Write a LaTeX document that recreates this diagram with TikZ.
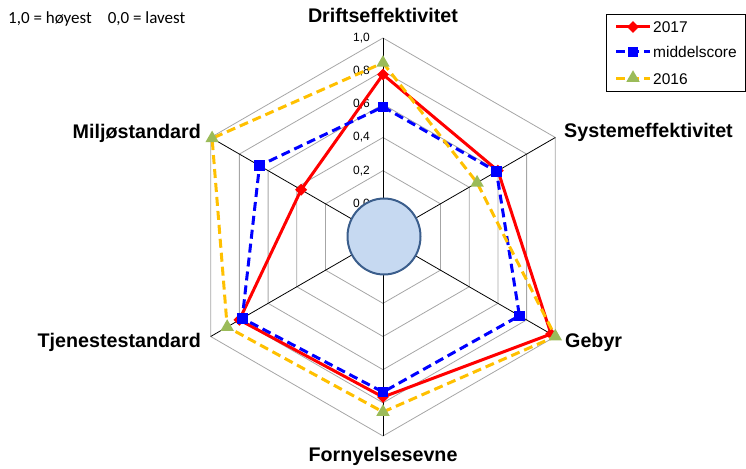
\documentclass[tikz,border=0pt]{standalone}
\usepackage{fontspec}
\setmainfont{Liberation Sans}
\newfontfamily\notefont{Carlito}
\usetikzlibrary{shapes.geometric}
\definecolor{ysc}{HTML}{FFC000}
\definecolor{grn}{HTML}{9BBB59}
\definecolor{hubfill}{HTML}{C6D9F1}
\definecolor{hubdraw}{HTML}{3B5E8C}
\definecolor{gridgray}{HTML}{A6A6A6}
\begin{document}
\begin{tikzpicture}[x=1pt,y=1pt,
  gridline/.style={draw=gridgray, line width=0.8pt},
  axisline/.style={draw=black, line width=0.8pt},
  catlabel/.style={font=\fontsize{19.7}{23}\selectfont\bfseries, inner sep=0pt},
  ticklabel/.style={font=\fontsize{12}{14}\selectfont, anchor=east, inner sep=0pt},
  legtext/.style={font=\fontsize{15.5}{18}\selectfont, anchor=west, inner sep=0pt},
  s17/.style={draw=red, line width=3pt, line join=round},
  smid/.style={draw=blue, line width=3pt, dash pattern=on 9pt off 5pt},
  s16/.style={draw=ysc, line width=3pt, dash pattern=on 9pt off 5pt},
  mdia/.style={diamond, fill=red, inner sep=0pt, minimum size=12pt},
  msq/.style={rectangle, fill=blue, inner sep=0pt, minimum size=10.5pt},
  mtri/.style={regular polygon, regular polygon sides=3, fill=grn, inner sep=0pt, minimum size=15.5pt},
]
\useasboundingbox (0,0) rectangle (746,-468);

% note
\node[font=\notefont\fontsize{17}{20}\selectfont, anchor=base west, inner sep=0pt] (note) at (8,-24) {1,0 = høyest\hspace{16pt}0,0 = lavest};

\begin{scope}[shift={(383,-237)}]
  \coordinate (O) at (0,0);
  \foreach \k in {1,...,6} {
    \pgfmathsetmacro{\rr}{\k*199/6}
    \draw[gridline] (90:\rr) -- (30:\rr) -- (-30:\rr) -- (-90:\rr) -- (210:\rr) -- (150:\rr) -- cycle;
  }
  \foreach \a [count=\i] in {90,30,-30,-90,210,150} {
    \coordinate (v\i) at (\a:199);
    \draw[axisline] (O) -- (v\i);
  }
  \foreach \k/\t in {1/{0,0},2/{0,2},3/{0,4},4/{0,6},5/{0,8},6/{1,0}} {
    \node[ticklabel] (tick\k) at (-13,{\k*199/6}) {\t};
  }
  \node[ellipse, draw=hubdraw, fill=hubfill, line width=2pt, minimum width=73pt, minimum height=76pt, inner sep=0pt] (hub) at (1,0.5) {};

  % 2017
  \foreach \a/\v [count=\i] in {90/0.78,30/0.60,-30/0.97,-90/0.765,210/0.80,150/0.37}
    \coordinate (a\i) at (\a:{(\v+0.2)*199/1.2});
  \draw[s17] (a1) -- (a2) -- (a3) -- (a4) -- (a5) -- (a6) -- cycle;
  \foreach \i in {1,...,6} \node[mdia] (ma\i) at (a\i) {};

  % middelscore
  \foreach \a/\v [count=\i] in {90/0.585,30/0.59,-30/0.75,-90/0.735,210/0.78,150/0.66}
    \coordinate (b\i) at (\a:{(\v+0.2)*199/1.2});
  \draw[smid] (b1) -- (b2) -- (b3) -- (b4) -- (b5) -- (b6) -- cycle;
  \foreach \i in {1,...,6} \node[msq] (mb\i) at (b\i) {};

  % 2016
  \foreach \a/\v [count=\i] in {90/0.85,30/0.455,-30/1.0,-90/0.855,210/0.885,150/0.99}
    \coordinate (c\i) at (\a:{(\v+0.2)*199/1.2});
  \draw[s16] (c1) -- (c2) -- (c3) -- (c4) -- (c5) -- (c6) -- cycle;
  \foreach \i in {1,...,6} \node[mtri] (mc\i) at (c\i) {};
\end{scope}

% category labels
\node[catlabel, anchor=base] (lD) at (383,-23) {Driftseffektivitet};
\node[catlabel, anchor=base west] (lS) at (564,-137) {Systemeffektivitet};
\node[catlabel, anchor=base west] (lG) at (565,-347) {Gebyr};
\node[catlabel, anchor=base] (lF) at (383,-461) {Fornyelsesevne};
\node[catlabel, anchor=base east] (lT) at (201,-347) {Tjenestestandard};
\node[catlabel, anchor=base east] (lM) at (201,-138) {Miljøstandard};

% legend
\draw[black, line width=0.8pt] (606,-14) rectangle (745,-91);
\coordinate (l1a) at (616,-27); \coordinate (l1b) at (650,-27);
\coordinate (l2a) at (616,-52); \coordinate (l2b) at (650,-52);
\coordinate (l3a) at (616,-79); \coordinate (l3b) at (650,-79);
\draw[s17] (l1a) -- (l1b);
\node[mdia] (lm1) at (633,-27) {};
\draw[smid] (l2a) -- (l2b);
\node[msq] (lm2) at (633,-52) {};
\draw[s16] (l3a) -- (l3b);
\node[mtri] (lm3) at (633,-78) {};
\node[legtext] (lt1) at (653,-27) {2017};
\node[legtext] (lt2) at (653,-52) {middelscore};
\node[legtext] (lt3) at (653,-79) {2016};
\end{tikzpicture}
\end{document}
